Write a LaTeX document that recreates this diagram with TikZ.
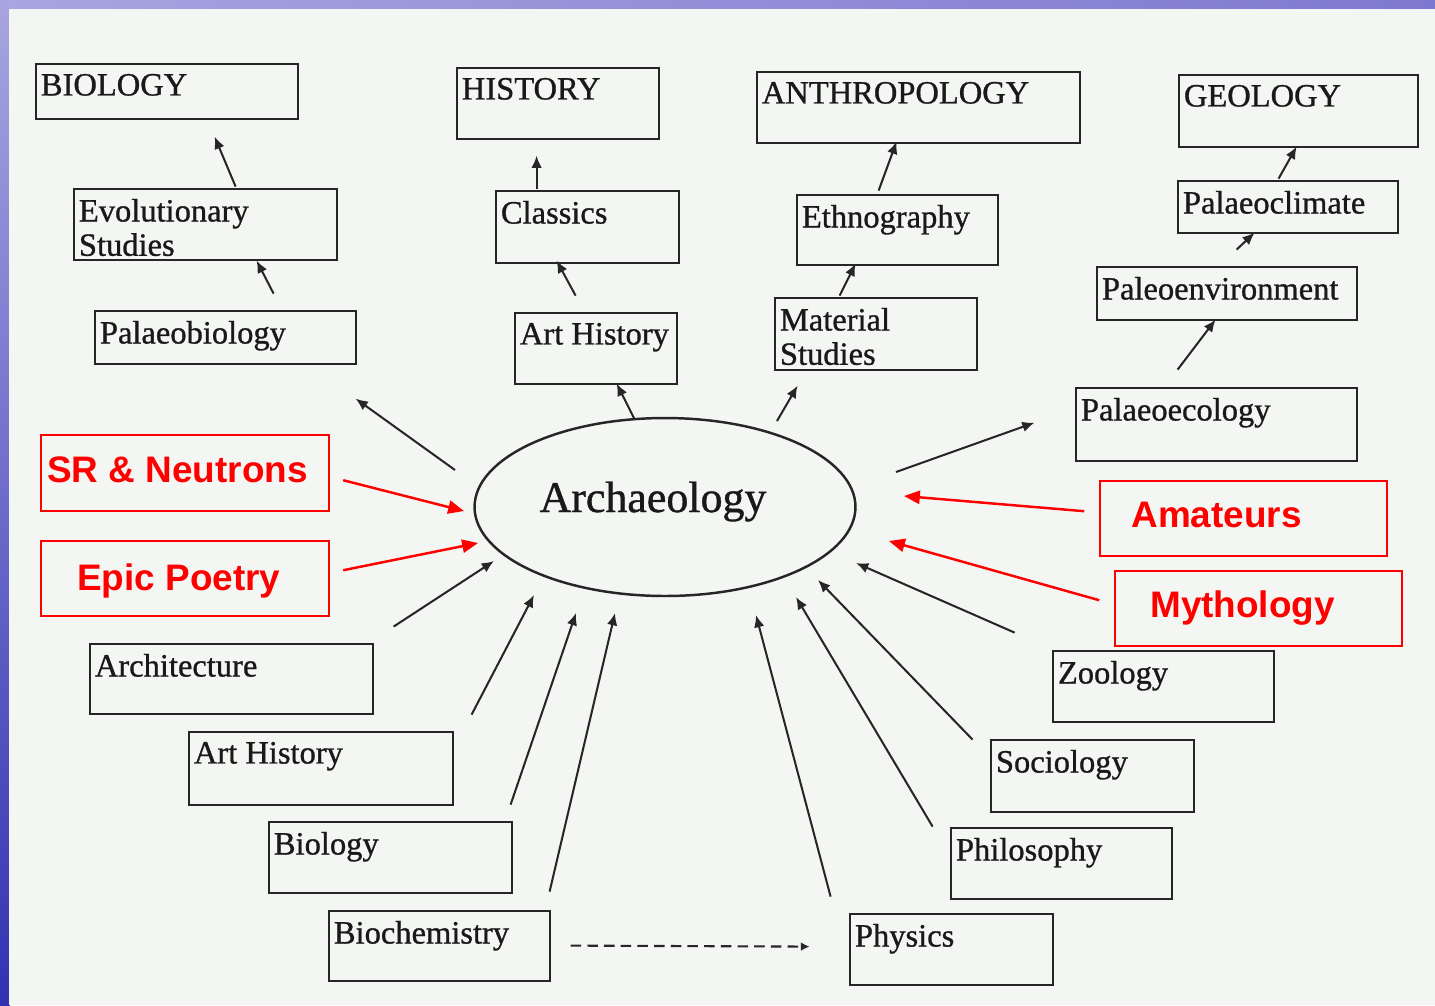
\documentclass[tikz,border=0pt]{standalone}
\usepackage{fontspec}
\setmainfont{Liberation Serif}[FakeBold=0.9]
\newfontfamily\redfont{Liberation Sans}
\usetikzlibrary{arrows.meta,calc,fit,shapes.geometric}
\definecolor{pagebg}{HTML}{F4F6F3}
\definecolor{bordtop}{HTML}{A8A5E0}
\definecolor{bordbot}{HTML}{3232B2}
\definecolor{bordright}{HTML}{7E79D0}
\definecolor{myred}{HTML}{FF0000}
\tikzset{
  box/.style={draw=black!85, line width=1.6pt, inner sep=0pt, rectangle},
  rbox/.style={draw=myred, line width=0.9pt, inner sep=0pt, rectangle},
  btxt/.style={anchor=north west, inner sep=0pt, align=left, text=black!90,
    font=\fontsize{18.5}{19.5}\selectfont},
  rtxt/.style={anchor=base west, inner sep=0pt, text=myred,
    font=\redfont\bfseries\fontsize{21}{24}\selectfont},
  arr/.style={line width=1.15pt, draw=black!85, -{Latex[length=7pt,width=6pt]}},
  rarr/.style={line width=1.4pt, draw=myred, -{Triangle[length=9pt,width=7.5pt]}},
  darr/.style={line width=1.2pt, draw=black!85, dash pattern=on 6pt off 3.5pt, -{Latex[length=5pt,width=5pt]}},
}
\newcommand{\bx}[6]{%
  \node[box, fit={(#2,#3) (#4,#5)}] (#1) {};
  \node[btxt] (#1T) at ($(#1.north west)+(6,11)$) {#6};}
\newcommand{\rbx}[7]{%
  \node[rbox, fit={(#2,#3) (#4,#5)}] (#1) {};
  \node[rtxt] (#1T) at (#6) {#7};}
\begin{document}
\begin{tikzpicture}[x=0.02cm,y=-0.02cm]
\useasboundingbox (0,0) rectangle (1435,1005);
% slide background
\shade[left color=bordtop, right color=bordright] (0,0) rectangle (1435,10);
\shade[top color=bordtop, bottom color=bordbot] (0,0) rectangle (10,1005);
\fill[pagebg] (9,9) rectangle (1435,1005);

% top boxes
\bx{bio}{36}{64}{298}{119}{BIOLOGY}
\bx{hist}{457}{68}{659}{139}{HISTORY}
\bx{anth}{757}{72}{1080}{143}{ANTHROPOLOGY}
\bx{geo}{1179}{75}{1418}{147}{GEOLOGY}
\bx{evo}{74}{189}{337}{260}{Evolutionary\\Studies}
\bx{cls}{496}{191}{679}{263}{Classics}
\bx{eth}{797}{195}{998}{265}{Ethnography}
\bx{pclim}{1178}{181}{1398}{233}{Palaeoclimate}
\bx{pbio}{95}{311}{356}{364}{Palaeobiology}
\bx{ahone}{515}{313}{677}{384}{Art History}
\bx{mat}{775}{298}{977}{370}{Material\\Studies}
\bx{penv}{1097}{267}{1357}{320}{Paleoenvironment}
\bx{peco}{1076}{388}{1357}{461}{Palaeoecology}
% bottom boxes
\bx{archi}{90}{644}{373}{714}{Architecture}
\bx{ahtwo}{189}{732}{453}{805}{Art History}
\bx{biotwo}{269}{822}{512}{893}{Biology}
\bx{bchem}{329}{911}{550}{981}{Biochemistry}
\bx{phys}{850}{914}{1053}{985}{Physics}
\bx{phil}{951}{828}{1172}{899}{Philosophy}
\bx{soc}{991}{740}{1194}{812}{Sociology}
\bx{zoo}{1053}{651}{1274}{722}{Zoology}
% red boxes
\rbx{sr}{41}{435}{329}{511}{47,482}{SR \& Neutrons}
\rbx{epic}{41}{541}{329}{616}{77,590}{Epic Poetry}
\rbx{ama}{1100}{481}{1387}{556}{1131,527}{Amateurs}
\rbx{myth}{1115}{571}{1402}{646}{1150,617}{Mythology}

% central ellipse
\node[ellipse, draw=black!85, line width=1.4pt, inner sep=0pt,
  minimum width=7.62cm, minimum height=3.56cm] (arch) at (665,507) {};
\node[anchor=base, inner sep=0pt, text=black!90, font=\fontsize{25}{28}\selectfont]
  (archT) at (653,512) {Archaeology};

% chains upward
\draw[arr] ($(pbio.north west)+(180,-16)$) -- ($(evo.north west)+(184,73)$);
\draw[arr] ($(evo.north west)+(163,-1)$) -- ($(bio.north west)+(180,74)$);
\draw[arr] ($(ahone.north west)+(62,-16)$) -- ($(cls.north west)+(62,71)$);
\draw[arr] ($(cls.north west)+(42,-1)$) -- ($(hist.north west)+(81,89)$);
\draw[arr] ($(arch.center)+(-31,-89)$) -- ($(ahone.north west)+(103,72)$);
\draw[arr] ($(arch.center)+(112,-86)$) -- ($(mat.north west)+(24,89)$);
\draw[arr] ($(mat.north west)+(66,-1)$) -- ($(eth.north west)+(60,70)$);
\draw[arr] ($(eth.north west)+(83,-3)$) -- ($(anth.north west)+(141,71)$);
\draw[arr] ($(arch.center)+(231,-35)$) -- ($(peco.north west)+(-40,36)$);
\draw[arr] ($(peco.north west)+(103,-17)$) -- ($(penv.north west)+(120,54)$);
\draw[arr] ($(penv.north west)+(141,-16)$) -- ($(pclim.north west)+(78,53)$);
\draw[arr] ($(pclim.north west)+(102,-1)$) -- ($(geo.north west)+(119,73)$);
\draw[arr] ($(arch.center)+(-210,-37)$) -- ($(pbio.north west)+(262,89)$);

% red arrows
\draw[rarr] ($(sr.north west)+(303,46)$) -- ($(arch.center)+(-201,4)$);
\draw[rarr] ($(epic.north west)+(303,30)$) -- ($(arch.center)+(-187,36)$);
\draw[rarr] ($(ama.north west)+(-15,31)$) -- ($(arch.center)+(239,-11)$);
\draw[rarr] ($(myth.north west)+(-15,30)$) -- ($(arch.center)+(224,34)$);

% incoming from below
\draw[arr] ($(archi.north west)+(305,-16)$) -- ($(arch.center)+(-171,54)$);
\draw[arr] ($(ahtwo.north west)+(284,-16)$) -- ($(arch.center)+(-131,88)$);
\draw[arr] ($(biotwo.north west)+(243,-16)$) -- ($(arch.center)+(-89,106)$);
\draw[arr] ($(bchem.north west)+(222,-18)$) -- ($(arch.center)+(-50,106)$);
\draw[arr] ($(phys.north west)+(-18,-16)$) -- ($(arch.center)+(91,108)$);
\draw[arr] ($(phil.north west)+(-17,0)$) -- ($(arch.center)+(131,90)$);
\draw[arr] ($(soc.north west)+(-17,1)$) -- ($(arch.center)+(153,73)$);
\draw[arr] ($(zoo.north west)+(-37,-17)$) -- ($(arch.center)+(191,56)$);
\draw[darr] ($(bchem.north west)+(243,36)$) -- ($(phys.north west)+(-39,34)$);
\end{tikzpicture}
\end{document}
